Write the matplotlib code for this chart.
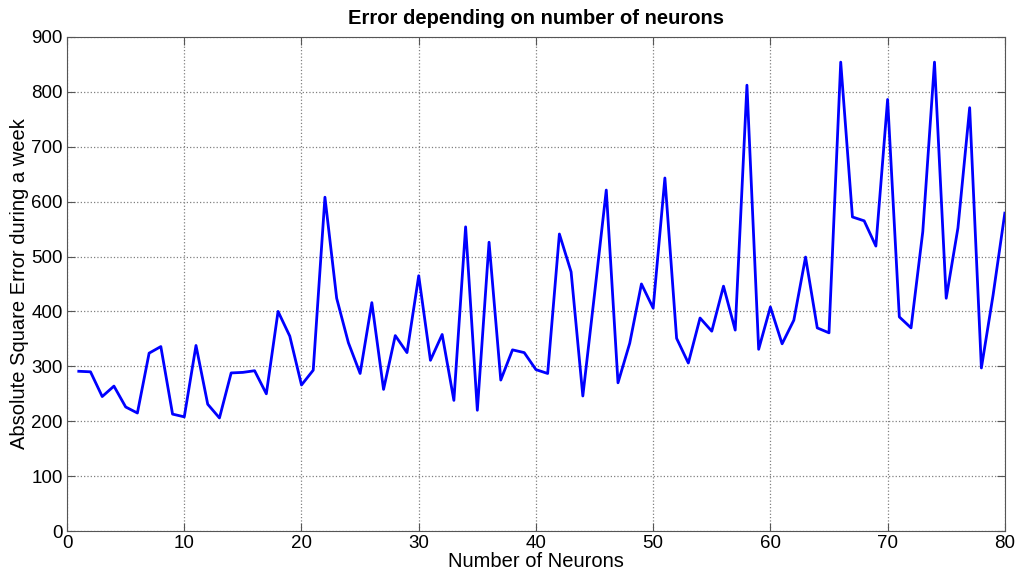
import numpy as np
import matplotlib.pyplot as plt

plt.rcParams['font.family'] = ['Liberation Sans', 'DejaVu Sans']

neurons = np.arange(1, 81)
error = [291, 290, 245, 264, 226, 215, 324, 336, 213, 208,
         338, 231, 206, 288, 289, 292, 250, 400, 355, 266,
         293, 608, 424, 343, 287, 416, 258, 356, 325, 465,
         311, 358, 238, 554, 220, 526, 275, 330, 325, 294,
         287, 541, 472, 246, 432, 621, 270, 342, 450, 406,
         643, 351, 306, 388, 364, 446, 366, 812, 331, 408,
         341, 384, 499, 370, 361, 854, 572, 565, 519, 786,
         390, 370, 545, 854, 424, 552, 771, 297, 430, 579]

fig = plt.figure(figsize=(10.16, 5.76), dpi=100)
ax = fig.add_axes([0.066, 0.078, 0.923, 0.858])
ax.plot(neurons, error, color='#0000ff', linewidth=2)

ax.set_xlim(0, 80)
ax.set_ylim(0, 900)
ax.set_xticks(np.arange(0, 81, 10))
ax.set_yticks(np.arange(0, 901, 100))
ax.grid(True, linestyle=':', color='#808080', linewidth=0.9)
ax.tick_params(direction='in', top=True, right=True, labelsize=13.5, length=6,
               color='#555555', pad=3)
for s in ax.spines.values():
    s.set_color('#555555')

ax.set_title('Error depending on number of neurons', fontsize=14.5, fontweight='bold', pad=9)
ax.set_xlabel('Number of Neurons', fontsize=14.5, labelpad=0)
ax.set_ylabel('Absolute Square Error during a week', fontsize=14.5, labelpad=2)

fig.savefig('out.png', dpi=100)
